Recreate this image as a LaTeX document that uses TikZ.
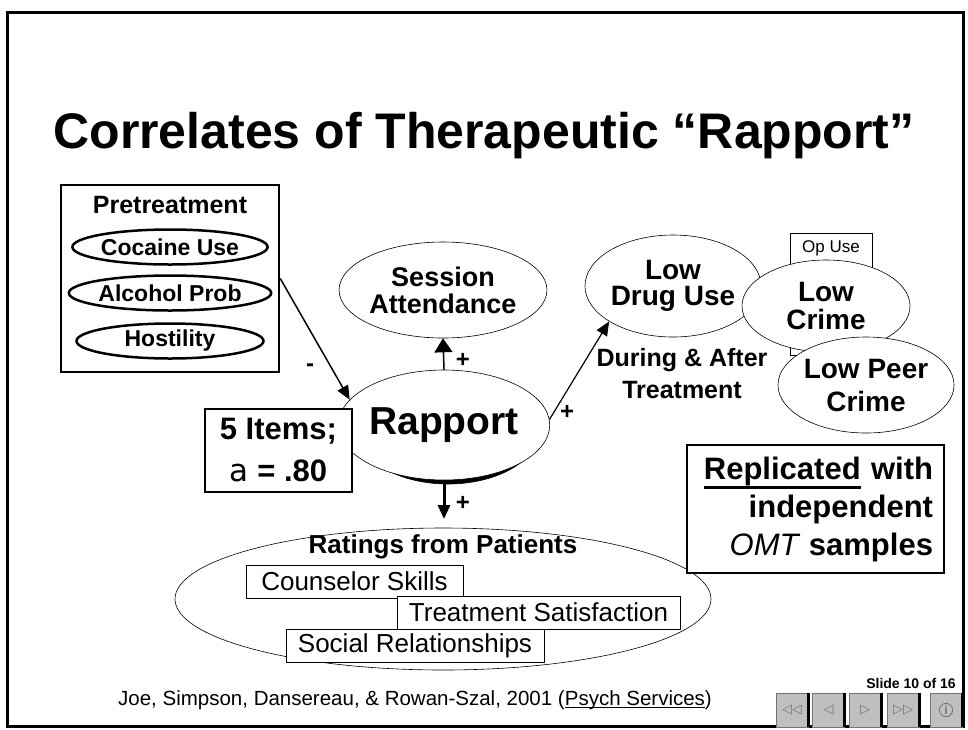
\documentclass[tikz,border=0pt]{standalone}
\usepackage{fontspec}
\usepackage{tikz}
\setmainfont{Liberation Sans}
\newfontfamily\alphafont{DejaVu Sans}
\newfontfamily\navfont{DejaVu Sans}
\usetikzlibrary{shapes.geometric,arrows.meta}
\newcommand{\fsz}[2]{\fontsize{#1}{#2}\selectfont}
% underline: depth, thickness, text
\newsavebox{\ulbox}
\newcommand{\ulbar}[3]{\sbox{\ulbox}{#3}\rlap{\rule[-#1]{\wd\ulbox}{#2}}\usebox{\ulbox}}

\begin{document}
\begin{tikzpicture}[
            x = 1pt, y = -1pt, % slide pixels, y going down
            > = {Triangle[length=14pt,width=12pt]}, % arrow head style
            semithick, % line style
            bubble/.style = {shape=ellipse, draw=black, fill=white, inner sep=0pt, align=center},
            pill/.style = {shape=ellipse, draw=black, line width=2.5pt, fill=white, minimum width=187pt, minimum height=35pt, inner sep=0pt, font=\bfseries\fsz{23}{24}},
            itembox/.style = {draw=black, fill=white, inner sep=0pt, minimum height=33pt, font=\fsz{26}{28}},
            sign/.style = {font=\bfseries\fsz{24}{24}},
            navbtn/.style = {draw=black!55, fill=black!25, minimum width=32pt, minimum height=34pt, inner sep=0pt, text=black!55, font=\navfont\fsz{13}{14}}
        ]

\useasboundingbox (0,0) rectangle (968,729);
\draw[line width=3pt] (7,12) rectangle (963,726);

\node[anchor=base, font=\bfseries\fsz{50}{56}] (title) at (484,148) {Correlates of Therapeutic “Rapport”};

% pretreatment group
\node[draw=black, line width=2.5pt, minimum width=218pt, minimum height=187pt] (pre) at (170,278.5) {};
\node[font=\bfseries\fsz{25}{28}] (pretitle) at (170,205) {Pretreatment};
\node[pill] (cocaine) at (170,247) {Cocaine Use};
\node[pill] (alcohol) at (170,293) {Alcohol Prob};
\node[pill] (hostility) at (170,341) {Hostility};

% rapport
\node[bubble, fill=black, minimum width=184pt, minimum height=110pt] (rapshadow) at (448,429) {};
\node[bubble, minimum width=184pt, minimum height=110pt, font=\bfseries\fsz{39}{44}] (rapport) at (444,425) {Rapport};
\node[draw=black, line width=2.5pt, fill=white, align=center, minimum width=147pt, minimum height=83pt, inner sep=0pt, font=\bfseries\fsz{31}{42}] (items) at (278.5,450.5) {5 Items;\\{\alphafont\mdseries a} = .80};

\node[bubble, minimum width=170pt, minimum height=96pt, font=\bfseries\fsz{27}{27}] (session) at (443,290) {Session\\Attendance};

% outcomes
\node[bubble, minimum width=168pt, minimum height=102pt, font=\bfseries\fsz{28}{26}] (lowdrug) at (673,286) {Low\\Drug Use};
\node[draw=black, thin, minimum width=82pt, minimum height=122pt, inner sep=0pt] (opbox) at (831,294) {};
\node[font=\fsz{17}{20}] (opuse) at (831,248) {Op Use};
\node[bubble, minimum width=168pt, minimum height=92pt, font=\bfseries\fsz{28}{28}] (lowcrime) at (826,306) {Low\\Crime};
\node[bubble, minimum width=168pt, minimum height=96pt, font=\bfseries\fsz{28}{33}] (peercrime) at (866,385) {Low Peer\\Crime};
\node[align=center, font=\bfseries\fsz{25}{32}] (during) at (682,374) {During \& After\\Treatment};

% patient ratings
\node[bubble, minimum width=536pt, minimum height=142pt] (ratings) at (443,599) {};
\node[font=\bfseries\fsz{26}{28}] (ratingstitle) at (443,547) {Ratings from Patients};
\node[itembox, minimum width=217pt] (counselor) at (354.5,581.5) {Counselor Skills};
\node[itembox, minimum width=283pt] (satisfaction) at (538.5,612.5) {Treatment Satisfaction};
\node[itembox, minimum width=258pt] (social) at (415,645.5) {Social Relationships};
\coordinate (ratingstip) at (444,519);

\node[draw=black, line width=1.5pt, fill=white, text width=235pt, align=right, inner xsep=11pt, minimum height=128pt, font=\bfseries\fsz{31}{38}] (repl) at (815.5,509) {\ulbar{10pt}{3pt}{Replicated} with\\independent\\{\mdseries\itshape OMT} samples};

 \path [->, line width=1.5pt] (pre.east) edge (rapport.165);
 \path [-{Triangle[length=14pt,width=18pt]}, double, double distance=2pt, line width=1.5pt] (rapport.north) edge (session.south);
 \path [->, double, double distance=1pt, line width=1.2pt] (rapport.3) edge (lowdrug.209);
 \path [->, line width=3pt] (rapport.south) edge (ratingstip);

\node[sign] (minus) at (310,368) {-};
\node[sign] (plusup) at (463,360) {+};
\node[sign] (plusright) at (567,412) {+};
\node[sign] (plusdown) at (463,503) {+};

% footer
\node[font=\fsz{20.5}{24}] (cite) at (415,700) {Joe, Simpson, Dansereau, \& Rowan-Szal, 2001 (\ulbar{3pt}{1pt}{Psych Services})};
\node[font=\bfseries\fsz{14}{16}] (slideno) at (911,683) {Slide 10 of 16};

\node[navbtn] (first) at (792,710) {◁◁};
\node[navbtn] (prev) at (828.5,710) {◁};
\node[navbtn] (next) at (865,710) {▷};
\node[navbtn] (last) at (903,710) {▷▷};
\node[navbtn] (info) at (946,710) {};
\node[circle, draw=black!55, thick, inner sep=1.5pt, text=black!55, font=\bfseries\fsz{12}{12}] (infoglyph) at (info) {i};
\draw[line width=3pt] (first.north east) -- (first.south east);
\draw[line width=3pt] (prev.north east) -- (prev.south east);
\draw[line width=3pt] (next.north east) -- (next.south east);
\draw[line width=3pt] (last.north east) -- (last.south east);
\draw[line width=3pt] (info.north east) -- (info.south east);
\end{tikzpicture}
\end{document}
